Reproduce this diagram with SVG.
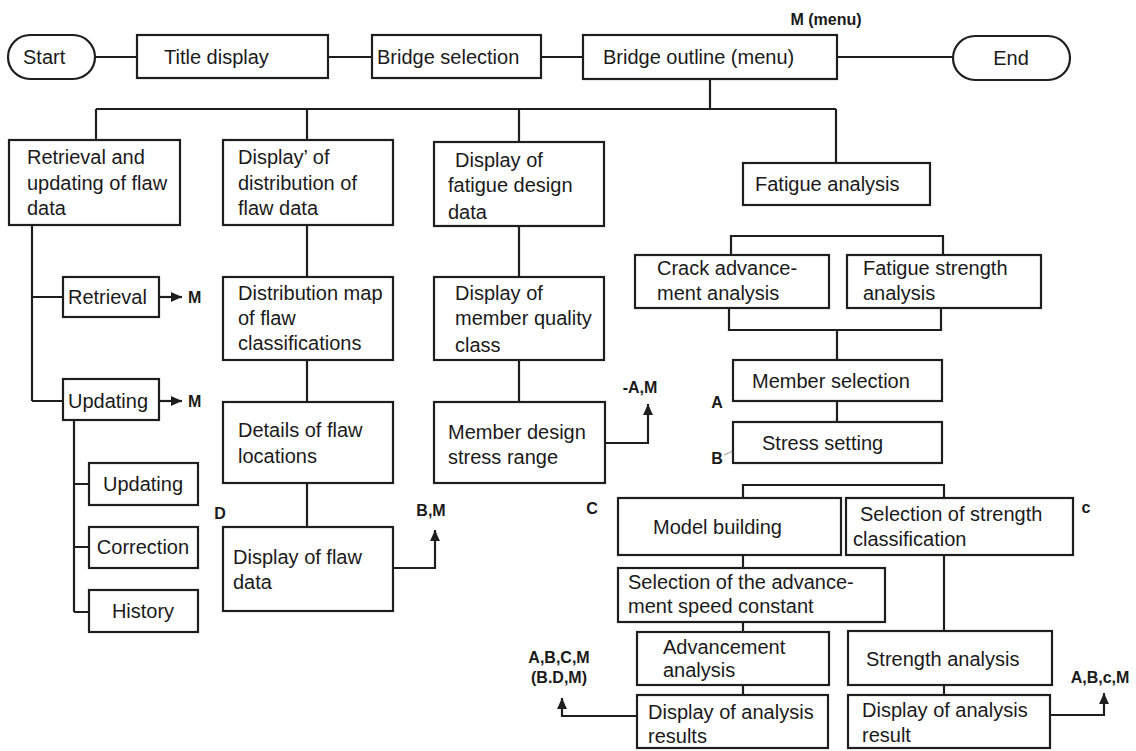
<svg xmlns="http://www.w3.org/2000/svg" width="1136" height="751" viewBox="0 0 1136 751">
<defs>
<style>
.b{fill:#fff;stroke:#1e1e1e;stroke-width:2.2}
.c{fill:none;stroke:#1e1e1e;stroke-width:2.2}
.t{font-family:"Liberation Sans",Arial,sans-serif;font-size:20px;fill:#1a1a1a}
.l{font-family:"Liberation Sans",Arial,sans-serif;font-size:16px;font-weight:bold;fill:#1a1a1a}
.m{text-anchor:middle}
</style>
<marker id="ah" viewBox="0 0 10 10" refX="10" refY="5" markerWidth="11" markerHeight="11" markerUnits="userSpaceOnUse" orient="auto">
<path d="M0,0.5 L10,5 L0,9.5 z" fill="#1e1e1e"/>
</marker>
</defs>
<rect width="1136" height="751" fill="#fff"/>

<g id="connectors">
<path class="c" d="M95,57 H137 M328,57 H372 M541,57 H583 M837,57 H953"/>
<path class="c" d="M710,79 V109 M96,109 H836 M96,109 V140 M307,109 V140 M519,109 V142 M836,109 V163"/>
<path class="c" d="M32,225 V401 M32,297 H63 M32,401 H63"/>
<path class="c" d="M159,297 H182" marker-end="url(#ah)"/>
<path class="c" d="M159,401 H182" marker-end="url(#ah)"/>
<path class="c" d="M74,420 V612 M74,484 H89 M74,547 H89 M74,612 H89"/>
<path class="c" d="M307,225 V277 M307,360 V402 M307,483 V527"/>
<path class="c" d="M393,568 H435 V530" marker-end="url(#ah)"/>
<path class="c" d="M519,226 V277 M519,360 V402"/>
<path class="c" d="M605,443 H648 V404" marker-end="url(#ah)"/>
<path class="c" d="M731,255 V236 H943 V255"/>
<path class="c" d="M729,308 V330 H941 V308 M837,330 V360 M837,401 V422"/>
<path class="c" d="M743,498 V485 H944 V498"/>
<path class="c" d="M743,555 V568 M743,622 V632 M743,685 V695 M944,555 V631 M944,685 V695"/>
<path class="c" d="M637,716 H562 V698" marker-end="url(#ah)"/>
<path class="c" d="M1050,715 H1104 V693" marker-end="url(#ah)"/>
<path d="M724,455 L733,451" fill="none" stroke="#999" stroke-width="1"/>
</g>

<g id="start"><rect class="b" x="8" y="35" width="87" height="44" rx="22"/><text class="t" x="23" y="64">Start</text></g>
<g id="title"><rect class="b" x="137" y="35" width="191" height="43"/><text class="t" x="164" y="64">Title display</text></g>
<g id="bridge-selection"><rect class="b" x="372" y="35" width="169" height="43"/><text class="t" x="377" y="64">Bridge selection</text></g>
<g id="bridge-outline"><rect class="b" x="583" y="35" width="254" height="44"/><text class="t" x="603" y="64">Bridge outline (menu)</text></g>
<g id="end"><rect class="b" x="953" y="36" width="117" height="44" rx="22"/><text class="t m" x="1011" y="65">End</text></g>
<g id="menu-label"><text class="l m" x="826" y="25">M (menu)</text></g>

<g id="retrieval-updating"><rect class="b" x="9" y="140" width="171" height="85"/><text class="t" x="27" y="164">Retrieval and</text><text class="t" x="27" y="190">updating of flaw</text><text class="t" x="27" y="215">data</text></g>
<g id="retrieval"><rect class="b" x="63" y="277" width="96" height="40"/><text class="t" x="68" y="304">Retrieval</text><text class="l" x="188" y="303">M</text></g>
<g id="updating"><rect class="b" x="63" y="379" width="96" height="41"/><text class="t" x="68" y="408">Updating</text><text class="l" x="188" y="407">M</text></g>
<g id="updating-sub"><rect class="b" x="89" y="463" width="109" height="42"/><text class="t m" x="143" y="491">Updating</text></g>
<g id="correction"><rect class="b" x="89" y="527" width="109" height="41"/><text class="t m" x="143" y="554">Correction</text></g>
<g id="history"><rect class="b" x="89" y="590" width="109" height="42"/><text class="t m" x="143" y="618">History</text></g>

<g id="distribution"><rect class="b" x="223" y="140" width="170" height="85"/><text class="t" x="238" y="164">Display’ of</text><text class="t" x="238" y="190">distribution of</text><text class="t" x="238" y="215">flaw data</text></g>
<g id="distribution-map"><rect class="b" x="223" y="277" width="170" height="83"/><text class="t" x="238" y="300">Distribution map</text><text class="t" x="238" y="325">of flaw</text><text class="t" x="238" y="350">classifications</text></g>
<g id="details"><rect class="b" x="223" y="402" width="170" height="81"/><text class="t" x="238" y="437">Details of flaw</text><text class="t" x="238" y="463">locations</text></g>
<g id="flaw-data"><rect class="b" x="223" y="527" width="170" height="84"/><text class="t" x="233" y="564">Display of flaw</text><text class="t" x="233" y="589">data</text><text class="l m" x="220" y="519">D</text><text class="l m" x="431" y="516">B,M</text></g>

<g id="fatigue-design"><rect class="b" x="434" y="142" width="170" height="84"/><text class="t" x="455" y="167">Display of</text><text class="t" x="448" y="192">fatigue design</text><text class="t" x="448" y="219">data</text></g>
<g id="member-quality"><rect class="b" x="434" y="277" width="170" height="83"/><text class="t" x="455" y="300">Display of</text><text class="t" x="455" y="325">member quality</text><text class="t" x="455" y="352">class</text></g>
<g id="member-design"><rect class="b" x="434" y="402" width="171" height="81"/><text class="t" x="448" y="439">Member design</text><text class="t" x="448" y="464">stress range</text><text class="l m" x="640" y="393">-A,M</text></g>

<g id="fatigue-analysis"><rect class="b" x="743" y="163" width="187" height="42"/><text class="t" x="755" y="191">Fatigue analysis</text></g>
<g id="crack"><rect class="b" x="635" y="255" width="194" height="53"/><text class="t" x="657" y="275">Crack advance-</text><text class="t" x="657" y="300">ment analysis</text></g>
<g id="fatigue-strength"><rect class="b" x="847" y="255" width="194" height="53"/><text class="t" x="863" y="275">Fatigue strength</text><text class="t" x="863" y="300">analysis</text></g>
<g id="member-selection"><rect class="b" x="733" y="360" width="209" height="41"/><text class="t" x="752" y="388">Member selection</text><text class="l m" x="717" y="408">A</text></g>
<g id="stress-setting"><rect class="b" x="733" y="422" width="209" height="41"/><text class="t" x="762" y="450">Stress setting</text><text class="l m" x="717" y="464">B</text></g>
<g id="model-building"><rect class="b" x="618" y="498" width="223" height="57"/><text class="t" x="653" y="534">Model building</text><text class="l m" x="592" y="514">C</text></g>
<g id="strength-class"><rect class="b" x="846" y="498" width="227" height="57"/><text class="t" x="860" y="521">Selection of strength</text><text class="t" x="853" y="546">classification</text><text class="l m" x="1086" y="513">c</text></g>
<g id="speed-constant"><rect class="b" x="618" y="568" width="267" height="54"/><text class="t" x="628" y="589">Selection of the advance-</text><text class="t" x="628" y="613">ment speed constant</text></g>
<g id="advancement"><rect class="b" x="637" y="632" width="192" height="53"/><text class="t" x="663" y="654">Advancement</text><text class="t" x="663" y="677">analysis</text></g>
<g id="strength-analysis"><rect class="b" x="848" y="631" width="204" height="54"/><text class="t" x="866" y="666">Strength analysis</text></g>
<g id="results-left"><rect class="b" x="637" y="695" width="191" height="53"/><text class="t" x="648" y="719">Display of analysis</text><text class="t" x="648" y="743">results</text><text class="l m" x="559" y="663">A,B,C,M</text><text class="l m" x="559" y="683">(B.D,M)</text></g>
<g id="results-right"><rect class="b" x="848" y="695" width="202" height="53"/><text class="t" x="862" y="717">Display of analysis</text><text class="t" x="862" y="742">result</text><text class="l m" x="1100" y="683">A,B,c,M</text></g>
</svg>
